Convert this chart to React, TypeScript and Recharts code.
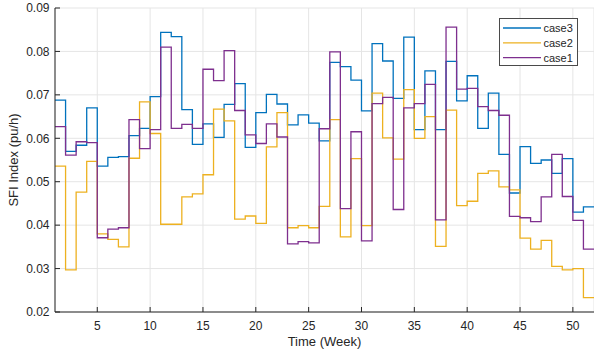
import React from 'react';
import { LineChart, Line, XAxis, YAxis, CartesianGrid, Legend } from 'recharts';

const weeks = [
  1, 2, 3, 4, 5, 6, 7, 8, 9, 10, 11, 12, 13, 14, 15, 16, 17, 18, 19, 20, 21, 22, 23, 24, 25, 26,
  27, 28, 29, 30, 31, 32, 33, 34, 35, 36, 37, 38, 39, 40, 41, 42, 43, 44, 45, 46, 47, 48, 49, 50, 51, 52,
];

const case3 = [
  0.0688, 0.057, 0.0584, 0.067, 0.0536, 0.0556, 0.0558, 0.0606, 0.0623, 0.0696, 0.0844, 0.0834, 0.0666,
  0.0586, 0.0633, 0.0602, 0.0678, 0.0726, 0.0579, 0.0659, 0.0701, 0.0679, 0.0631, 0.0654, 0.0635, 0.0594,
  0.0775, 0.0765, 0.0734, 0.0663, 0.0818, 0.0778, 0.0692, 0.0833, 0.062, 0.0755, 0.062, 0.0777, 0.0686,
  0.0744, 0.0623, 0.0704, 0.0563, 0.0474, 0.0581, 0.0542, 0.055, 0.0519, 0.0553, 0.043, 0.0442, 0.0442,
];

const case2 = [
  0.0536, 0.0297, 0.0476, 0.0547, 0.038, 0.0367, 0.035, 0.0554, 0.0684, 0.0611, 0.0402, 0.0402, 0.0465,
  0.0472, 0.0516, 0.0667, 0.064, 0.0414, 0.0421, 0.0404, 0.058, 0.0659, 0.0394, 0.0399, 0.0394, 0.0443,
  0.0643, 0.0373, 0.0553, 0.0399, 0.0704, 0.0601, 0.0552, 0.0712, 0.06, 0.065, 0.0351, 0.0665, 0.0445,
  0.0455, 0.0519, 0.0525, 0.0488, 0.0481, 0.037, 0.0345, 0.0365, 0.0305, 0.0297, 0.03, 0.0233, 0.0233,
];

const case1 = [
  0.0627, 0.0561, 0.0592, 0.059, 0.0371, 0.0391, 0.0394, 0.0643, 0.0576, 0.062, 0.081, 0.0623, 0.0632,
  0.0623, 0.0759, 0.0733, 0.0802, 0.0664, 0.0608, 0.0588, 0.0633, 0.0603, 0.0357, 0.0362, 0.0359, 0.0622,
  0.0799, 0.0438, 0.0615, 0.0364, 0.068, 0.0694, 0.0436, 0.067, 0.068, 0.0724, 0.0412, 0.0856, 0.0713,
  0.0715, 0.0673, 0.0664, 0.0653, 0.042, 0.0417, 0.0408, 0.0465, 0.0563, 0.0466, 0.0411, 0.0345, 0.0345,
];

const xTicks = [5, 10, 15, 20, 25, 30, 35, 40, 45, 50];
const yTicks = [0.02, 0.03, 0.04, 0.05, 0.06, 0.07, 0.08, 0.09];

// plot order: case3 first, case1 last (on top)
const series = [
  { key: 'case3', color: '#0072BD' },
  { key: 'case2', color: '#EDB120' },
  { key: 'case1', color: '#7E2F8E' },
];

const data = weeks.map((week, i) => ({
  week,
  case3: case3[i],
  case2: case2[i],
  case1: case1[i],
}));

const axisColor = '#262626';
const font = '"Liberation Sans", Arial, Helvetica, sans-serif';

const LegendBox = () => (
  <div style={{ width: 79, height: 48, boxSizing: 'border-box', border: '1px solid #4a4a4a', background: '#fff' }}>
    <svg width={77} height={46} style={{ display: 'block' }}>
      {series.map((s, i) => (
        <g key={s.key}>
          <line x1={3} x2={41} y1={9 + i * 14.8} y2={9 + i * 14.8} stroke={s.color} strokeWidth={1.3} />
          <text x={43.5} y={9 + i * 14.8 + 4} fontSize={11} fill={axisColor} fontFamily={font}>
            {s.key}
          </text>
        </g>
      ))}
    </svg>
  </div>
);

const yLabel = (props: any) => {
  const vb = props.viewBox;
  const cx = 18;
  const cy = vb.y + vb.height / 2;
  return (
    <text x={cx} y={cy} textAnchor="middle" fontSize={13} fill={axisColor} fontFamily={font} transform={`rotate(-90, ${cx}, ${cy})`}>
      SFI Index (pu/h)
    </text>
  );
};

export default function App() {
  return (
    <div style={{ position: 'absolute', left: 0, top: 0, background: '#fff' }}>
      <LineChart width={594} height={353} data={data} margin={{ top: 8, right: 0, left: 0, bottom: 0 }} style={{ fontFamily: font }}>
        <CartesianGrid stroke="#e5e5e5" />
        <XAxis
          dataKey="week"
          type="number"
          domain={[1, 52]}
          ticks={xTicks}
          allowDataOverflow
          height={41}
          stroke={axisColor}
          tickSize={-5}
          tickMargin={14}
          tick={{ fill: axisColor, fontSize: 12 }}
          label={{ value: 'Time (Week)', position: 'insideBottom', offset: 7, fill: axisColor, fontSize: 13 }}
        />
        <XAxis
          xAxisId="top"
          orientation="top"
          type="number"
          dataKey="week"
          domain={[1, 52]}
          ticks={xTicks}
          allowDataOverflow
          height={0}
          stroke={axisColor}
          tickSize={-5}
          tick={false}
        />
        <YAxis
          type="number"
          domain={[0.02, 0.09]}
          ticks={yTicks}
          allowDataOverflow
          width={55}
          stroke={axisColor}
          tickSize={-5}
          tickMargin={10.5}
          tick={{ fill: axisColor, fontSize: 12 }}
          tickFormatter={(v: number) => v.toFixed(2)}
          label={{ content: yLabel }}
        />
        <YAxis
          yAxisId="right"
          orientation="right"
          type="number"
          domain={[0.02, 0.09]}
          ticks={yTicks}
          allowDataOverflow
          width={0}
          stroke={axisColor}
          tickSize={-5}
          tick={false}
        />
        {series.map((s) => (
          <Line
            key={s.key}
            dataKey={s.key}
            name={s.key}
            type="stepAfter"
            stroke={s.color}
            strokeWidth={1.3}
            dot={false}
            activeDot={false}
            isAnimationActive={false}
          />
        ))}
        <Legend
          layout="horizontal"
          verticalAlign="middle"
          align="center"
          content={() => <LegendBox />}
          wrapperStyle={{ left: 499, top: 18, width: 79, height: 48 }}
        />
      </LineChart>
    </div>
  );
}
